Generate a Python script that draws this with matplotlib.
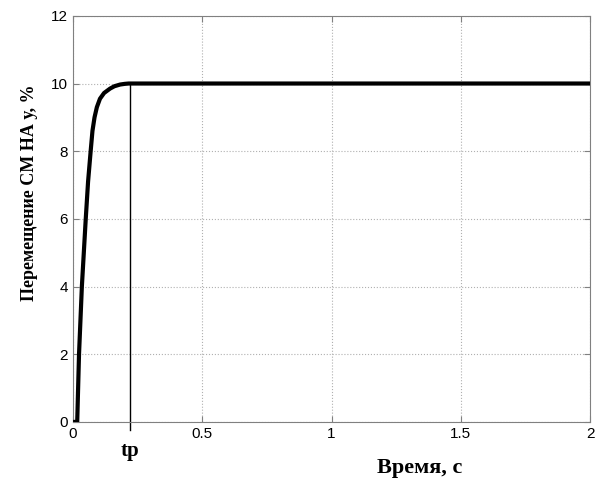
import matplotlib
matplotlib.use("Agg")
import matplotlib.pyplot as plt

t = [0.0, 0.016, 0.023, 0.034, 0.049, 0.058, 0.068, 0.075, 0.083, 0.092, 0.104, 0.120, 0.143, 0.160, 0.182, 0.20, 0.215, 2.0]
y = [0.0, 0.0, 2.0, 4.0, 6.0, 7.1, 8.0, 8.6, 9.0, 9.3, 9.55, 9.72, 9.85, 9.92, 9.97, 9.99, 10.0, 10.0]
tp = 0.22
xticks = [0, 0.5, 1, 1.5, 2]
xticklabels = ["0", "0.5", "1", "1.5", "2"]
yticks = [0, 2, 4, 6, 8, 10, 12]

fig = plt.figure(figsize=(5.99, 4.8), dpi=100)
ax = fig.add_axes([0.122, 0.121, 0.863, 0.846])
ax.plot(t, y, color="black", lw=3, solid_capstyle="butt", solid_joinstyle="round", zorder=3)
ax.plot([tp, tp], [-0.25, 10], color="black", lw=1, clip_on=False, zorder=2)
ax.set_xlim(0, 2)
ax.set_ylim(0, 12)
ax.set_xticks(xticks)
ax.set_xticklabels(xticklabels)
ax.set_yticks(yticks)
ax.grid(True, linestyle=":", color="#b0b0b0", lw=0.8)
for s in ax.spines.values():
    s.set_color("#808080")
ax.tick_params(direction="in", top=True, right=True, labelsize=11, colors="#808080",
               labelcolor="black", length=4)
for lab in ax.get_xticklabels() + ax.get_yticklabels():
    lab.set_family("Liberation Sans")
ax.text(tp, -0.55, "tp", ha="center", va="top", fontsize=15, fontweight="bold",
        family="Liberation Serif", transform=ax.transData)
ax.set_xlabel("Время, с", fontsize=16, fontweight="bold", family="Liberation Serif")
ax.xaxis.set_label_coords(0.67, -0.09)
ax.set_ylabel("Перемещение СМ НА у, %", fontsize=13, fontweight="bold",
              family="Liberation Serif")
ax.yaxis.set_label_coords(-0.068, 0.564)
fig.savefig("out.png", dpi=100)
